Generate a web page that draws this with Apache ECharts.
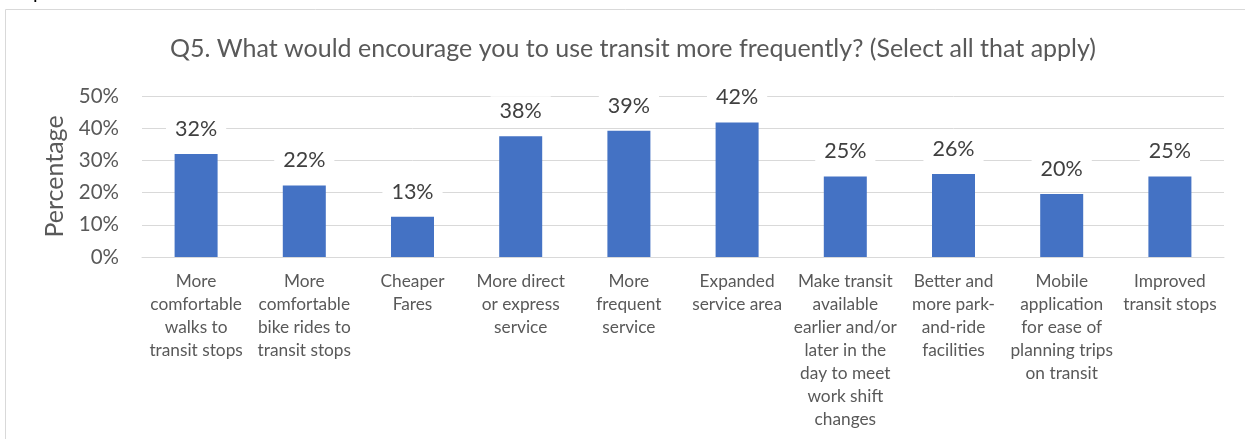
<!DOCTYPE html>
<html>
<head>
<meta charset="utf-8">
<script src="https://cdn.jsdelivr.net/npm/echarts@6/dist/echarts.min.js"></script>
<style>
  html, body { margin: 0; padding: 0; background: #ffffff; }
  #chart { width: 1245px; height: 439px; }
</style>
</head>
<body>
<div id="chart"></div>
<script>
// Survey answers (share of respondents, select all that apply)
const categories = [
  'More comfortable walks to transit stops',
  'More comfortable bike rides to transit stops',
  'Cheaper Fares',
  'More direct or express service',
  'More frequent service',
  'Expanded service area',
  'Make transit available earlier and/or later in the day to meet work shift changes',
  'Better and more park-and-ride facilities',
  'Mobile application for ease of planning trips on transit',
  'Improved transit stops'
];
const tickLabels = [
  'More\ncomfortable\nwalks to\ntransit stops',
  'More\ncomfortable\nbike rides to\ntransit stops',
  'Cheaper\nFares',
  'More direct\nor express\nservice',
  'More\nfrequent\nservice',
  'Expanded\nservice area',
  'Make transit\navailable\nearlier and/or\nlater in the\nday to meet\nwork shift\nchanges',
  'Better and\nmore park-\nand-ride\nfacilities',
  'Mobile\napplication\nfor ease of\nplanning trips\non transit',
  'Improved\ntransit stops'
];
const shares = [0.32, 0.222, 0.125, 0.375, 0.392, 0.418, 0.25, 0.258, 0.196, 0.25];
const yTicks = [0, 0.1, 0.2, 0.3, 0.4, 0.5];

const FONT = 'Lato';
const GREY = '#595959';
const pct = v => Math.round(v * 100) + '%';

const chart = echarts.init(document.getElementById('chart'), null, { renderer: 'canvas' });
chart.setOption({
  animation: false,
  textStyle: { fontFamily: FONT },
  title: {
    text: 'Q5. What would encourage you to use transit more frequently? (Select all that apply)',
    left: 628,
    textAlign: 'center',
    top: 31,
    textStyle: { fontFamily: FONT, fontSize: 25, fontWeight: 'normal', color: GREY }
  },
  graphic: [
    {
      type: 'rect',
      shape: { x: 5.5, y: 9.5, width: 1400, height: 600 },
      style: { fill: null, stroke: '#d9d9d9', lineWidth: 1 },
      silent: true
    },
    {
      type: 'text',
      left: 33,
      top: -17,
      style: { text: 'p', font: '20px ' + FONT, fill: '#000000' },
      silent: true
    }
  ],
  grid: { left: 142, right: 21, top: 96, bottom: 182, containLabel: false },
  xAxis: {
    type: 'category',
    data: categories,
    axisLine: { show: true, lineStyle: { color: '#d9d9d9', width: 1 } },
    axisTick: { show: false },
    axisLabel: {
      interval: 0,
      margin: 13,
      color: GREY,
      fontSize: 17.3,
      lineHeight: 23,
      fontFamily: FONT,
      formatter: (v, i) => tickLabels[i]
    }
  },
  yAxis: {
    type: 'value',
    min: yTicks[0],
    max: yTicks[yTicks.length - 1],
    interval: 0.1,
    name: 'Percentage',
    nameLocation: 'middle',
    nameGap: 71,
    nameRotate: 90,
    nameTextStyle: { color: GREY, fontSize: 25, fontFamily: FONT },
    axisLine: { show: false },
    axisTick: { show: false },
    splitLine: { lineStyle: { color: '#d9d9d9', width: 1 } },
    axisLabel: { color: GREY, fontSize: 20.5, margin: 23, fontFamily: FONT, formatter: pct }
  },
  series: [{
    type: 'bar',
    data: shares,
    barWidth: 43,
    itemStyle: { color: '#4472c4' },
    label: {
      show: true,
      position: 'top',
      distance: 10,
      formatter: p => pct(p.value),
      color: '#404040',
      fontSize: 21.5,
      lineHeight: 24,
      fontFamily: FONT,
      backgroundColor: '#ffffff',
      padding: [3, 9]
    }
  }]
});
</script>
</body>
</html>
